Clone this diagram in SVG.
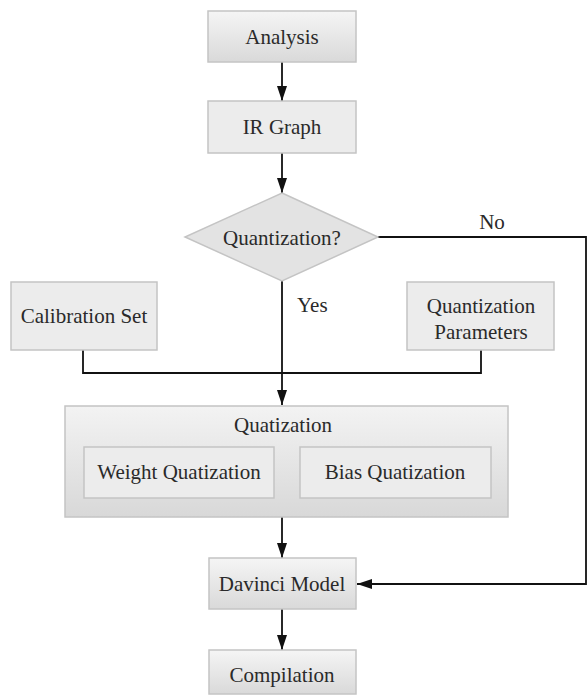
<svg xmlns="http://www.w3.org/2000/svg" width="587" height="695" viewBox="0 0 587 695">
<style>
text{font-family:"Liberation Serif","DejaVu Serif","Times New Roman",serif;font-size:21px;fill:#2a2a2a;text-anchor:middle}
.box{stroke:#c4c4c4;stroke-width:1.5}
.flat{fill:#ececec}
.grad{fill:url(#g)}
.big{fill:url(#gb)}
.edge{fill:none;stroke:#111;stroke-width:1.8}
.edgeA{fill:none;stroke:#111;stroke-width:1.8;marker-end:url(#arr)}
</style>
<defs>
<linearGradient id="g" x1="0" y1="0" x2="0" y2="1">
<stop offset="0" stop-color="#f5f5f5"/><stop offset="1" stop-color="#d9d9d9"/>
</linearGradient>
<linearGradient id="gb" x1="0" y1="0" x2="0" y2="1">
<stop offset="0" stop-color="#f3f3f3"/><stop offset="1" stop-color="#d8d8d8"/>
</linearGradient>
<marker id="arr" markerWidth="15" markerHeight="10" refX="15" refY="5" viewBox="0 0 15 10" orient="auto" markerUnits="userSpaceOnUse">
<path d="M0,0 L15,5 L0,10 Z" fill="#111"/>
</marker>
</defs>
<g id="connectors">
<line class="edgeA" x1="282" y1="62" x2="282" y2="101"/>
<line class="edgeA" x1="282" y1="153" x2="282" y2="193"/>
<line class="edgeA" x1="282" y1="281" x2="282" y2="405"/>
<polyline class="edge" points="83,350 83,373 481,373 481,350"/>
<polyline class="edgeA" points="378,237 586,237 586,584 357,584"/>
<line class="edgeA" x1="282" y1="517" x2="282" y2="558"/>
<line class="edgeA" x1="282" y1="609" x2="282" y2="650"/>
<text x="492" y="229" font-family="Liberation Serif, serif">No</text>
<text x="297" y="312" font-family="Liberation Serif, serif" style="text-anchor:start">Yes</text>
</g>
<g id="analysis"><rect class="box grad" x="208" y="11" width="148" height="51"/><text x="282" y="44">Analysis</text></g>
<g id="irgraph"><rect class="box flat" x="208" y="101" width="148" height="52"/><text x="282" y="134">IR Graph</text></g>
<g id="decision"><polygon class="box" fill="#e3e3e3" points="282,193 378,237 282,281 185,237"/><text x="282" y="245">Quantization?</text></g>
<g id="calibration"><rect class="box flat" x="11" y="282" width="146" height="68"/><text x="84" y="323">Calibration Set</text></g>
<g id="qparams"><rect class="box flat" x="407" y="282" width="147" height="68"/><text x="481" y="313">Quantization</text><text x="481" y="339">Parameters</text></g>
<g id="quatization"><rect class="box big" x="65" y="406" width="443" height="111"/><text x="283" y="432">Quatization</text>
<g id="weight"><rect class="box flat" x="84" y="447" width="190" height="51"/><text x="179" y="479">Weight Quatization</text></g>
<g id="bias"><rect class="box flat" x="300" y="447" width="191" height="51"/><text x="395" y="479">Bias Quatization</text></g>
</g>
<g id="davinci"><rect class="box grad" x="209" y="558" width="147" height="51"/><text x="282" y="591">Davinci Model</text></g>
<g id="compilation"><rect class="box grad" x="209" y="650" width="147" height="44"/><text x="282" y="682">Compilation</text></g>
</svg>
